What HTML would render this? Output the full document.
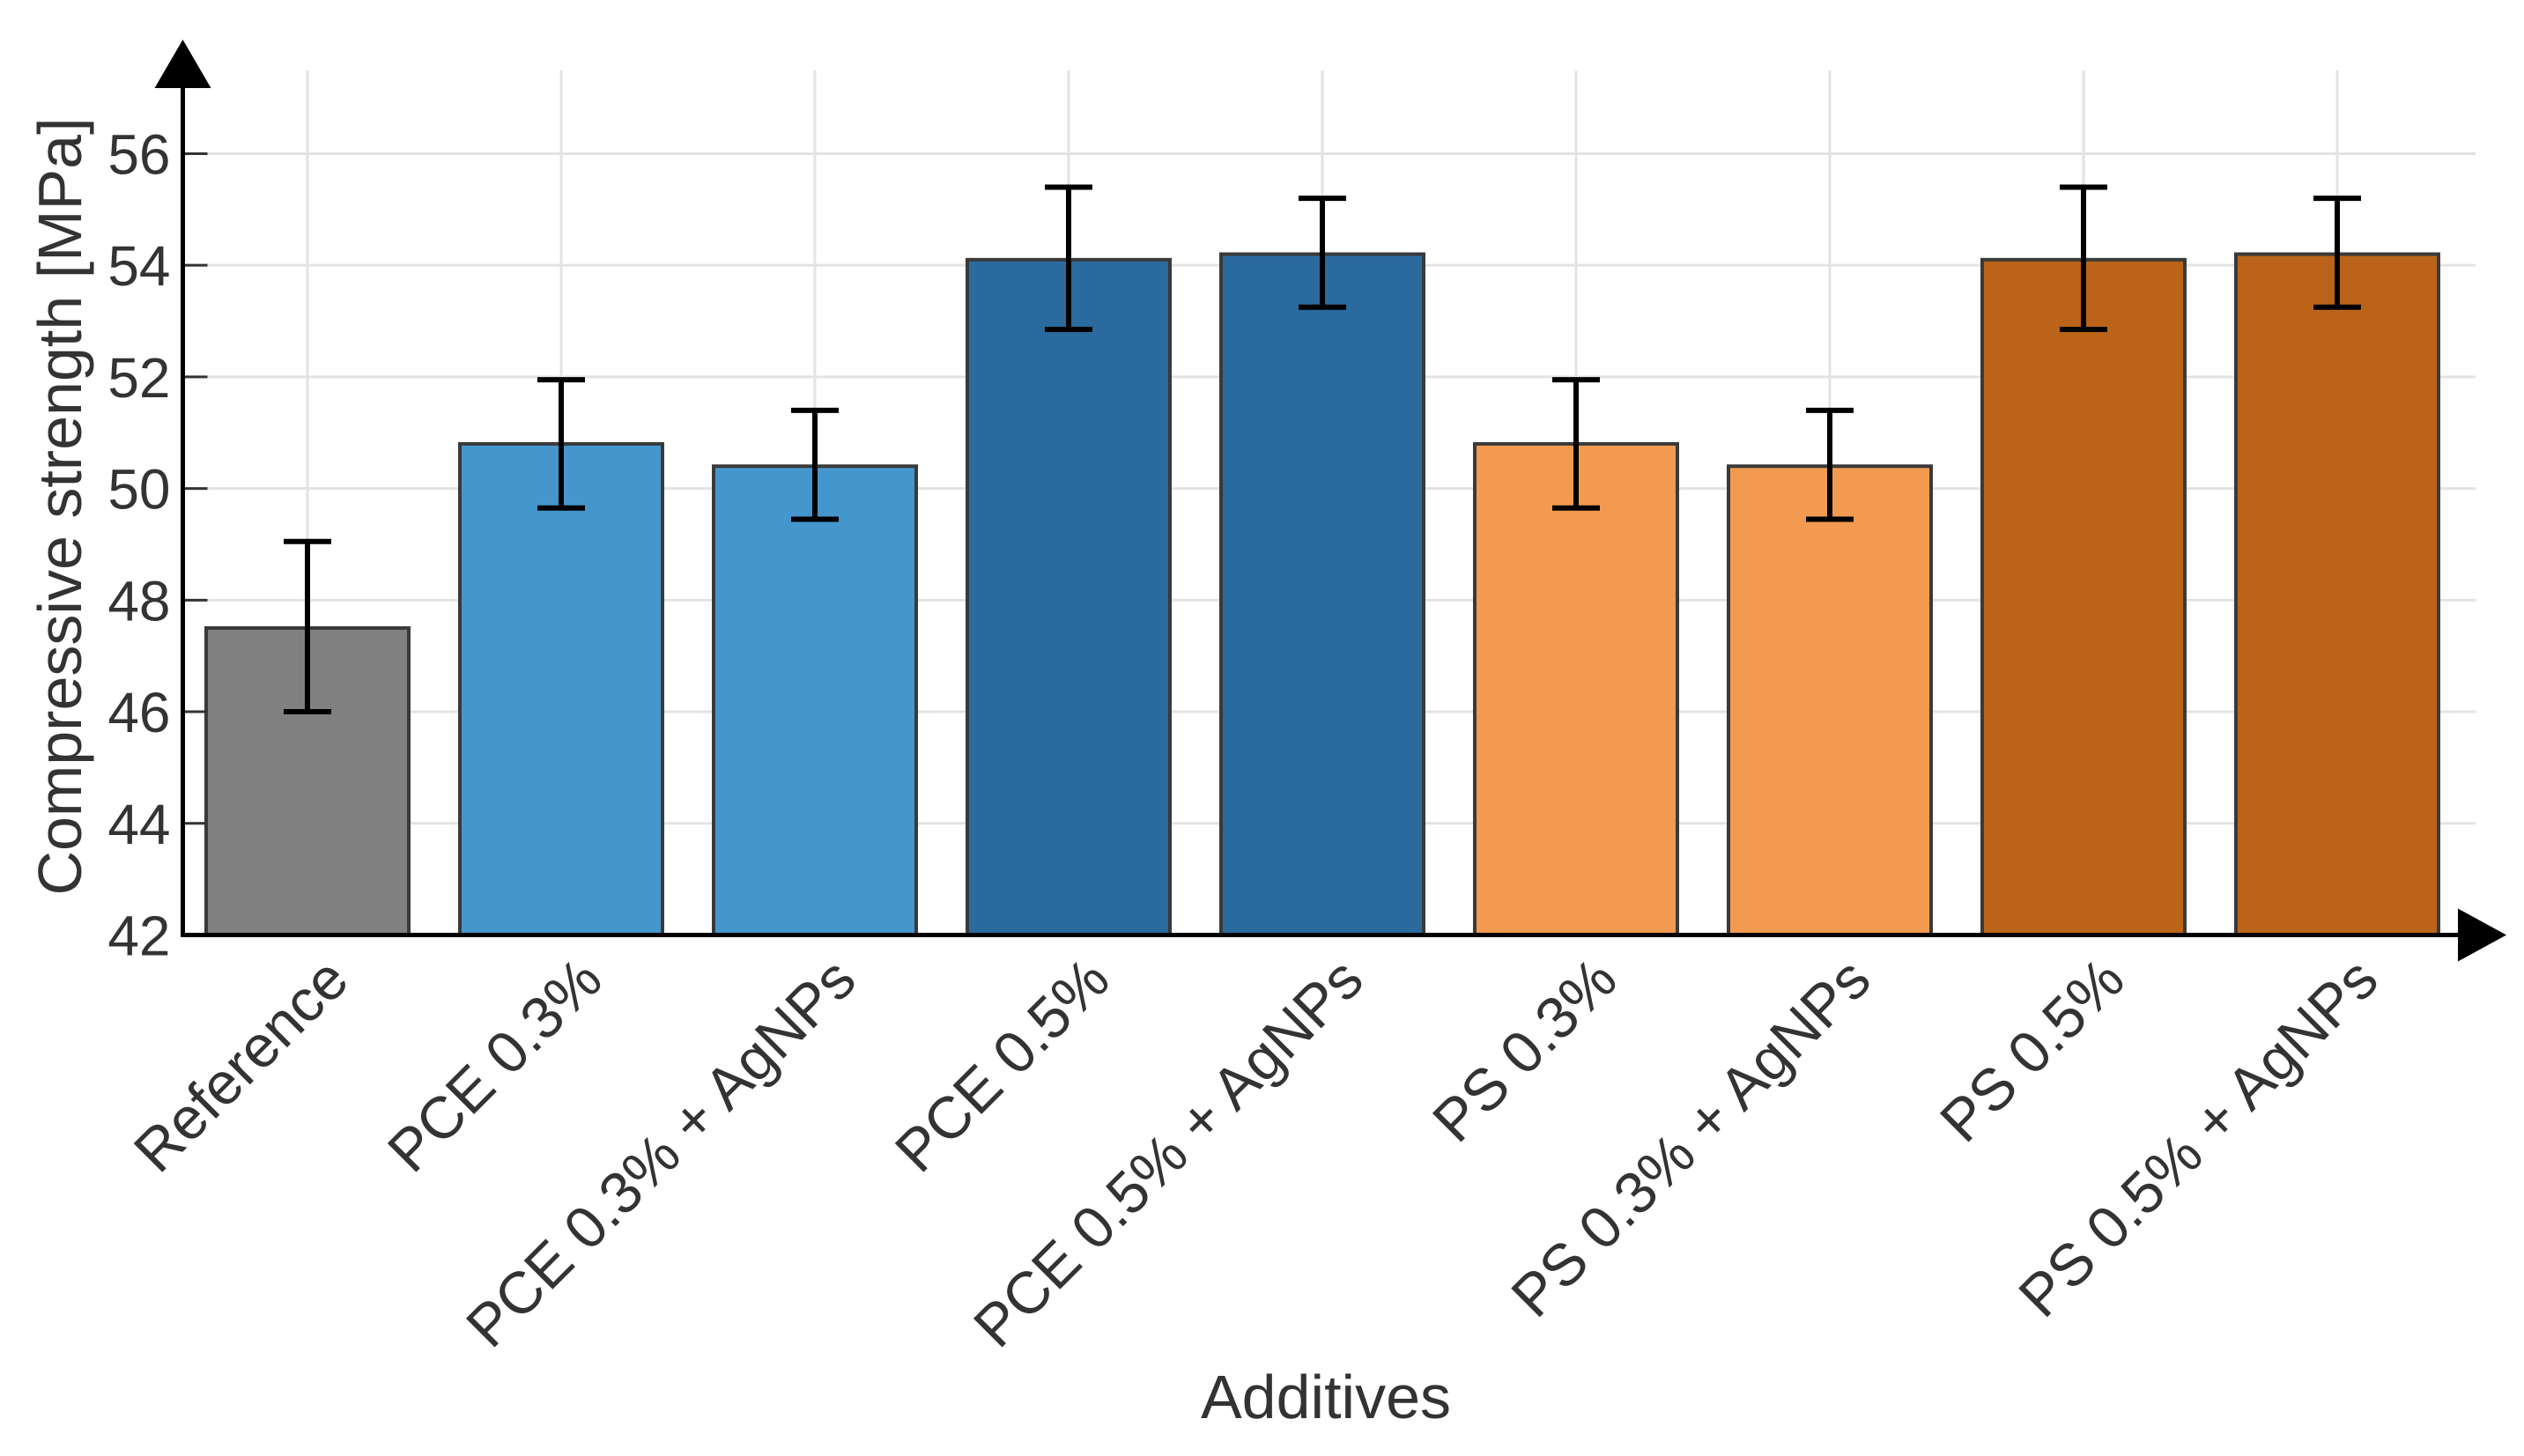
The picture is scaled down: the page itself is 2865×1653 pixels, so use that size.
<!DOCTYPE html>
<html><head><meta charset="utf-8"><style>
html,body{margin:0;padding:0;background:#fff;}
svg{display:block;font-family:"Liberation Sans",Arial,sans-serif;}
</style></head><body>
<svg id="chart" width="2865" height="1653" viewBox="0 0 2865 1653" xmlns="http://www.w3.org/2000/svg">
<g id="grid"></g>
<g id="bars"></g>
<g id="errs"></g>
<g id="axes"></g>
<g id="labels"></g>
<text x="1505" y="1610" font-size="70" text-anchor="middle" fill="#333">Additives</text>
<text transform="translate(92,575) rotate(-90)" font-size="70" text-anchor="middle" fill="#333">Compressive strength [MPa]</text>
</svg>
<script>
const categories = ["Reference","PCE 0.3%","PCE 0.3% + AgNPs","PCE 0.5%","PCE 0.5% + AgNPs","PS 0.3%","PS 0.3% + AgNPs","PS 0.5%","PS 0.5% + AgNPs"];
const values = [47.5, 50.8, 50.4, 54.1, 54.2, 50.8, 50.4, 54.1, 54.2];
const errLow = [46.0, 49.65, 49.45, 52.85, 53.25, 49.65, 49.45, 52.85, 53.25];
const errHigh = [49.05, 51.95, 51.4, 55.4, 55.2, 51.95, 51.4, 55.4, 55.2];
const colors = ["#808080","#4596cc","#4596cc","#2a6a9e","#2a6a9e","#f29a50","#f29a50","#bb6419","#bb6419"];
const yTicks = [42,44,46,48,50,52,54,56];

const NS="http://www.w3.org/2000/svg";
const X0=207.5, Y0=1061.5, unit=63.36;
const firstC=349, step=288, bw=230;
const yS=v=>Y0-(v-42)*unit;
const xC=i=>firstC+i*step;
function mk(tag,attrs,parent){const e=document.createElementNS(NS,tag);for(const k in attrs)e.setAttribute(k,attrs[k]);parent.appendChild(e);return e;}
const grid=document.getElementById('grid'),bars=document.getElementById('bars'),errs=document.getElementById('errs'),axes=document.getElementById('axes'),labels=document.getElementById('labels');

yTicks.forEach(t=>{
  const y=yS(t);
  if(t>42){const g=mk('line',{x1:X0,x2:2810,y1:y,y2:y,stroke:'#e3e3e3','stroke-width':3},grid);
  
  }
  const tk=mk('line',{x1:X0,x2:X0+28,y1:y,y2:y,stroke:'#333','stroke-width':3},axes);
  
  
  const tx=mk('text',{x:X0-14,y:y+23,'font-size':64,'text-anchor':'end',fill:'#333'},labels);
  tx.textContent=t;
  
  
});
categories.forEach((c,i)=>{
  const x=xC(i);
  const g=mk('line',{x1:x,x2:x,y1:80,y2:Y0,stroke:'#e3e3e3','stroke-width':3},grid);
  
  
  const top=yS(values[i]);
  const r=mk('rect',{x:x-bw/2,y:top,width:bw,height:Y0-top,fill:colors[i],stroke:'#3a3a3a','stroke-width':4},bars);
  
  
  const y1=yS(errHigh[i]),y2=yS(errLow[i]);
  const e=mk('path',{d:`M${x},${y1}V${y2}M${x-27},${y1}H${x+27}M${x-27},${y2}H${x+27}`,stroke:'#000','stroke-width':6,fill:'none'},errs);
  
  
  const lx=x+50, ly=1116;
  const l=mk('text',{x:lx,y:ly,'font-size':67,'text-anchor':'end',fill:'#333',transform:`rotate(-45 ${lx} ${ly})`},labels);
  l.textContent=c;
  
  
});
const ya=mk('line',{x1:X0,x2:X0,y1:80,y2:Y0+2,stroke:'#000','stroke-width':5},axes);


const xa=mk('line',{x1:X0-2,x2:2800,y1:Y0,y2:Y0,stroke:'#000','stroke-width':5},axes);


const ay=mk('polygon',{points:`${X0-32},100 ${X0+32},100 ${X0},45`,fill:'#000'},axes);


const ax=mk('polygon',{points:`2790,${Y0-30} 2790,${Y0+30} 2845,${Y0}`,fill:'#000'},axes);


</script>
</body></html>
